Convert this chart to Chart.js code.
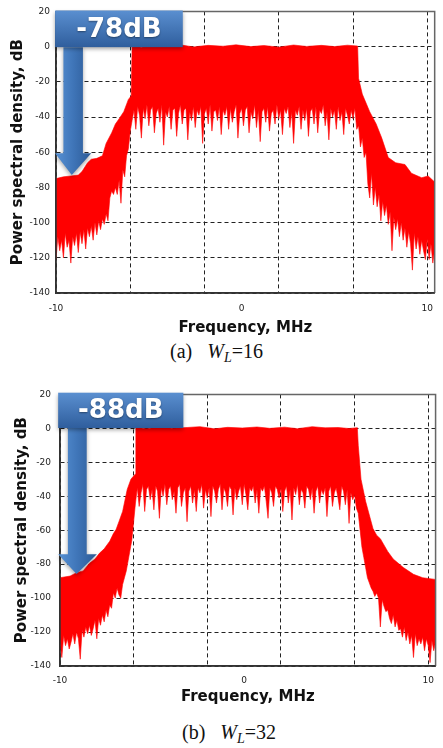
<!DOCTYPE html>
<html>
<head>
<meta charset="utf-8">
<script src="https://cdn.jsdelivr.net/npm/chart.js@4.4.0/dist/chart.umd.min.js"></script>
<style>
  html, body { margin: 0; padding: 0; background: #fff; }
  body { width: 443px; height: 748px; position: relative; overflow: hidden; }
  canvas { position: absolute; left: 0; }
  #plotA { top: 0; }
  #plotB { top: 380px; }
  .caption { position: absolute; font-family: "Liberation Serif", serif; font-size: 20px; color: #111; white-space: nowrap; }
  .caption .wl { margin-left: 15px; }
  .caption sub { font-size: 14px; font-style: italic; vertical-align: -4px; }
</style>
</head>
<body>
<canvas id="plotA" width="443" height="340"></canvas>
<div class="caption" style="left:170px; top:340px;">(a)<span class="wl"><i>W</i><sub>L</sub>=16</span></div>
<canvas id="plotB" width="443" height="330"></canvas>
<div class="caption" style="left:182px; top:721px;">(b)<span class="wl"><i>W</i><sub>L</sub>=32</span></div>
<script>
// Frequency bins (MHz) used for the lower edge of both spectra
const binMHz = [
  -10, -9.9, -9.8, -9.7, -9.6, -9.5, -9.4, -9.3, -9.2, -9.1,
  -9, -8.9, -8.8, -8.7, -8.6, -8.5, -8.4, -8.3, -8.2, -8.1,
  -8, -7.9, -7.8, -7.7, -7.6, -7.5, -7.4, -7.3, -7.2, -7.1,
  -7, -6.9, -6.8, -6.7, -6.6, -6.5, -6.4, -6.3, -6.2, -6.1,
  -6, -5.9, -5.8, -5.7, -5.6, -5.5, -5.4, -5.3, -5.2, -5.1,
  -5, -4.9, -4.8, -4.7, -4.6, -4.5, -4.4, -4.3, -4.2, -4.1,
  -4, -3.9, -3.8, -3.7, -3.6, -3.5, -3.4, -3.3, -3.2, -3.1,
  -3, -2.9, -2.8, -2.7, -2.6, -2.5, -2.4, -2.3, -2.2, -2.1,
  -2, -1.9, -1.8, -1.7, -1.6, -1.5, -1.4, -1.3, -1.2, -1.1,
  -1, -0.9, -0.8, -0.7, -0.6, -0.5, -0.4, -0.3, -0.2, -0.1,
  0, 0.1, 0.2, 0.3, 0.4, 0.5, 0.6, 0.7, 0.8, 0.9,
  1, 1.1, 1.2, 1.3, 1.4, 1.5, 1.6, 1.7, 1.8, 1.9,
  2, 2.1, 2.2, 2.3, 2.4, 2.5, 2.6, 2.7, 2.8, 2.9,
  3, 3.1, 3.2, 3.3, 3.4, 3.5, 3.6, 3.7, 3.8, 3.9,
  4, 4.1, 4.2, 4.3, 4.4, 4.5, 4.6, 4.7, 4.8, 4.9,
  5, 5.1, 5.2, 5.3, 5.4, 5.5, 5.6, 5.7, 5.8, 5.9,
  6, 6.1, 6.2, 6.3, 6.4, 6.5, 6.6, 6.7, 6.8, 6.9,
  7, 7.1, 7.2, 7.3, 7.4, 7.5, 7.6, 7.7, 7.8, 7.9,
  8, 8.1, 8.2, 8.3, 8.4, 8.5, 8.6, 8.7, 8.8, 8.9,
  9, 9.1, 9.2, 9.3, 9.4, 9.5, 9.6, 9.7, 9.8, 9.9,
  10, 10.1, 10.2, 10.3, 10.4
];

// (a) W_L = 16 : lower edge of the red trace, dB
const lowerDbA = [
  -121, -108, -116, -110, -120, -106, -114, -110, -123, -108,
  -113, -106, -117, -105, -112, -104, -115, -103, -108, -102,
  -110, -100, -107, -99, -104, -98, -101, -95, -99, -86,
  -82, -84, -80, -84, -76, -89, -70, -74, -62, -58,
  -48, -42, -36, -47, -34, -39, -52, -35, -41, -33,
  -45, -36, -34, -49, -38, -35, -43, -33, -56, -37,
  -40, -34, -47, -36, -35, -51, -38, -33, -44, -36,
  -35, -53, -37, -42, -34, -46, -36, -39, -34, -55,
  -38, -35, -44, -33, -48, -37, -36, -42, -34, -50,
  -36, -39, -34, -47, -35, -43, -37, -33, -52, -38,
  -35, -45, -36, -34, -49, -37, -41, -33, -46, -36,
  -54, -37, -35, -43, -34, -48, -38, -36, -44, -33,
  -41, -36, -50, -35, -38, -34, -46, -37, -55, -36,
  -39, -34, -47, -36, -42, -35, -51, -37, -35, -44,
  -34, -49, -36, -38, -33, -45, -37, -53, -35, -40,
  -36, -47, -34, -42, -37, -50, -35, -39, -44, -36,
  -41, -35, -47, -45, -57, -52, -63, -60, -78, -86,
  -72, -90, -80, -91, -84, -99, -88, -96, -90, -101,
  -94, -116, -97, -104, -98, -108, -100, -110, -103, -114,
  -105, -112, -127, -106, -115, -108, -118, -110, -116, -121,
  -109, -121, -112, -123, -115
];
// (a) upper edge of the red trace
const upperMHzA = [
  -10, -9.6, -9.2, -8.8, -8.6, -8.3, -8.1, -7.8, -7.5, -7.3,
  -7, -6.8, -6.6, -6.35, -6.1, -5.95, -5.9, -5.4, -4.8, -4.1,
  -3.3, -2.6, -1.8, -1, -0.3, 0.5, 1.2, 2, 2.8, 3.5,
  4.3, 5, 5.7, 6.25, 6.3, 6.5, 6.9, 7.25, 7.55, 7.9,
  8.3, 8.8, 9.15, 9.7, 10.05, 10.4
];
const upperDbA = [
  -75, -74, -73.5, -73, -71, -66, -64, -63.5, -62, -55,
  -49, -44, -41, -37, -30, -28, 0.5, -0.3, 0.8, 0,
  1, -0.2, 0.7, 0.2, 1, 0, 0.6, -0.3, 0.9, 0.1,
  0.7, 0, 0.8, 0.3, -18, -27, -37, -44, -52, -63,
  -66, -67, -72, -74.5, -73.5, -77
];

// (b) W_L = 32 : lower edge of the red trace, dB
const lowerDbB = [
  -126, -135, -122, -128, -124, -130, -126, -121, -127, -120,
  -124, -136, -119, -123, -117, -121, -116, -122, -118, -113,
  -124, -112, -116, -110, -114, -107, -111, -104, -106, -97,
  -100, -94, -98, -100, -92, -88, -84, -78, -72, -66,
  -55, -44, -35, -46, -38, -33, -49, -36, -34, -42,
  -36, -48, -34, -37, -53, -35, -40, -33, -45, -36,
  -34, -42, -37, -50, -35, -33, -46, -38, -35, -55,
  -37, -34, -44, -36, -49, -35, -38, -33, -47, -36,
  -41, -35, -52, -34, -37, -44, -36, -33, -48, -35,
  -38, -46, -34, -36, -51, -35, -42, -37, -34, -45,
  -33, -39, -48, -35, -37, -34, -44, -36, -50, -35,
  -37, -34, -43, -53, -35, -38, -46, -34, -36, -41,
  -35, -49, -37, -34, -44, -36, -54, -35, -39, -33,
  -45, -36, -38, -47, -34, -36, -42, -35, -50, -37,
  -34, -44, -36, -39, -35, -52, -37, -34, -46, -38,
  -35, -41, -48, -34, -37, -45, -36, -56, -38, -42,
  -39, -47, -50, -60, -70, -76, -82, -88, -91, -94,
  -96, -99, -97, -100, -117, -101, -105, -108, -107, -112,
  -115, -110, -117, -113, -119, -118, -123, -117, -125, -120,
  -127, -122, -135, -121, -128, -124, -127, -123, -131, -124,
  -128, -138, -125, -131, -126
];
// (b) upper edge of the red trace
const upperMHzB = [
  -10, -9.45, -9.1, -8.75, -8.4, -8.1, -7.85, -7.6, -7.3, -7.1,
  -6.95, -6.8, -6.6, -6.35, -6.15, -5.92, -5.88, -5.3, -4.6, -3.9,
  -3.1, -2.4, -1.6, -0.9, -0.1, 0.7, 1.4, 2.2, 2.9, 3.7,
  4.4, 5.1, 5.7, 6.15, 6.2, 6.35, 6.6, 7, 7.2, 7.4,
  7.8, 8.1, 8.65, 9.2, 9.7, 10.4
];
const upperDbB = [
  -88, -87, -85, -84, -79.5, -77, -73.5, -71, -66.5, -62,
  -59.5, -55, -49, -36, -30, -27, 0.6, -0.2, 0.9, 0.1,
  0.5, 1, -0.3, 0.6, 0.2, 0.8, 0, 0.7, -0.2, 1,
  0.3, 0.5, -0.1, 0.4, -10, -30, -43, -59, -63, -65,
  -72.5, -77, -82, -86, -88, -89
];

// Axis ticks
const xTickMHz = [-10, -6, -2, 0, 2, 6, 10];
const xLabelMHz = [-10, 0, 10];
const yTickDb = [-140, -120, -100, -80, -60, -40, -20, 0, 20];

// Draws the plot frame and the blue arrow callout
const calloutPlugin = {
  id: 'callout',
  afterDatasetsDraw(chart, args, opts) {
    const { ctx, chartArea: a, scales: { x, y } } = chart;
    ctx.save();
    // frame
    ctx.lineWidth = 1.5;
    ctx.strokeStyle = '#666';
    ctx.beginPath();
    ctx.moveTo(a.left, a.top); ctx.lineTo(a.right, a.top); ctx.lineTo(a.right, a.bottom);
    ctx.stroke();
    ctx.strokeStyle = '#333';
    ctx.beginPath();
    ctx.moveTo(a.left, a.top); ctx.lineTo(a.left, a.bottom); ctx.lineTo(a.right, a.bottom);
    ctx.stroke();

    const bx0 = x.getPixelForValue(opts.box[0]), bx1 = x.getPixelForValue(opts.box[1]);
    const by0 = y.getPixelForValue(opts.box[2]), by1 = y.getPixelForValue(opts.box[3]);
    const sx0 = x.getPixelForValue(opts.shaft[0]), sx1 = x.getPixelForValue(opts.shaft[1]);
    const hx0 = x.getPixelForValue(opts.head[0]), hx1 = x.getPixelForValue(opts.head[1]);
    const hy = y.getPixelForValue(opts.head[2]);
    const tx = x.getPixelForValue(opts.tip[0]), ty = y.getPixelForValue(opts.tip[1]);

    // arrow
    const ga = ctx.createLinearGradient(hx0, 0, hx1, 0);
    ga.addColorStop(0, '#5791d4');
    ga.addColorStop(0.5, '#3f75b8');
    ga.addColorStop(1, '#2c5a96');
    ctx.shadowColor = 'rgba(0,0,0,0.35)';
    ctx.shadowBlur = 4;
    ctx.shadowOffsetY = 2;
    ctx.fillStyle = ga;
    ctx.beginPath();
    ctx.moveTo(sx0, by1);
    ctx.lineTo(sx1, by1);
    ctx.lineTo(sx1, hy);
    ctx.lineTo(hx1, hy);
    ctx.lineTo(tx, ty);
    ctx.lineTo(hx0, hy);
    ctx.lineTo(sx0, hy);
    ctx.closePath();
    ctx.fill();

    // label box
    const gb = ctx.createLinearGradient(0, by0, 0, by1);
    gb.addColorStop(0, '#5a8fd0');
    gb.addColorStop(1, '#2f5e9d');
    ctx.fillStyle = gb;
    ctx.fillRect(bx0, by0, bx1 - bx0, by1 - by0);

    ctx.shadowColor = 'rgba(0,0,0,0.4)';
    ctx.shadowBlur = 2;
    ctx.shadowOffsetY = 1;
    ctx.fillStyle = '#fff';
    ctx.font = 'bold 26px "DejaVu Sans"';
    ctx.textAlign = 'center';
    ctx.textBaseline = 'middle';
    ctx.fillText(opts.text, (bx0 + bx1) / 2, (by0 + by1) / 2 + 1);
    ctx.restore();
  }
};

const tickFont = { family: 'DejaVu Sans', size: 9 };
const titleFont = { family: 'DejaVu Sans', size: 15, weight: 'bold' };

function buildChart(canvasId, upperMHz, upperDb, lowerDb, lay, note) {
  // closed outline: upper edge left to right, then lower edge right to left
  const upper = upperMHz.map((f, i) => ({ x: f, y: upperDb[i] }));
  const lower = binMHz.map((f, i) => ({ x: f, y: lowerDb[i] })).reverse();

  return new Chart(document.getElementById(canvasId), {
    type: 'line',
    data: {
      datasets: [{
        data: upper.concat(lower),
        fill: 'shape',
        backgroundColor: '#ff0000',
        borderColor: '#ff0000',
        borderWidth: 0.6,
        pointRadius: 0,
        tension: 0
      }]
    },
    options: {
      responsive: false,
      animation: false,
      events: [],
      layout: { padding: lay.padding },
      plugins: {
        legend: { display: false },
        tooltip: { enabled: false },
        callout: note
      },
      scales: {
        x: {
          type: 'linear',
          min: -10,
          max: 10.4,
          afterBuildTicks: (s) => { s.ticks = xTickMHz.map((v) => ({ value: v })); },
          afterFit: (s) => { s.height = lay.xHeight; },
          ticks: {
            autoSkip: false,
            maxRotation: 0,
            padding: lay.xTickPad,
            font: tickFont,
            color: '#222',
            callback: (v) => (xLabelMHz.includes(v) ? String(v) : '')
          },
          grid: {
            drawTicks: false,
            lineWidth: 1,
            color: (c) => (c.tick && c.tick.value === 0 ? 'rgba(0,0,0,0)' : '#222')
          },
          border: { color: '#333', width: 1.5, dash: [4, 3] },
          title: {
            display: true,
            text: 'Frequency, MHz',
            font: titleFont,
            color: '#111',
            padding: { top: 0, bottom: lay.xTitlePad }
          }
        },
        y: {
          min: -140,
          max: 20,
          afterBuildTicks: (s) => { s.ticks = yTickDb.map((v) => ({ value: v })); },
          afterFit: (s) => { s.width = lay.yWidth; },
          ticks: { padding: lay.yTickPad, font: tickFont, color: '#222' },
          grid: { drawTicks: false, lineWidth: 1, color: '#222' },
          border: { color: '#333', width: 1.5, dash: [4, 3] },
          title: {
            display: true,
            text: 'Power spectral density, dB',
            font: titleFont,
            color: '#111',
            padding: { top: lay.yTitlePad, bottom: 0 }
          }
        }
      }
    },
    plugins: [calloutPlugin]
  });
}

buildChart('plotA', upperMHzA, upperDbA, lowerDbA,
  { padding: { top: 9, right: 1, left: 0, bottom: 0 }, yWidth: 56, xHeight: 47,
    xTickPad: 10, yTickPad: 6, xTitlePad: 3, yTitlePad: 9 },
  { text: '-78dB', box: [-10.05, -3.17, 20.5, -0.3], shaft: [-9.6, -8.55],
    head: [-10.05, -8.1, -60.6], tip: [-9.15, -73] });

buildChart('plotB', upperMHzB, upperDbB, lowerDbB,
  { padding: { top: 11, right: 3, left: 0, bottom: 0 }, yWidth: 60, xHeight: 44,
    xTickPad: 9, yTickPad: 9, xTitlePad: 4, yTitlePad: 13 },
  { text: '-88dB', box: [-10.1, -3.3, 21, 0.2], shaft: [-9.57, -8.55],
    head: [-10.1, -8.0, -74.2], tip: [-9.1, -85.8] });
</script>
</body>
</html>
